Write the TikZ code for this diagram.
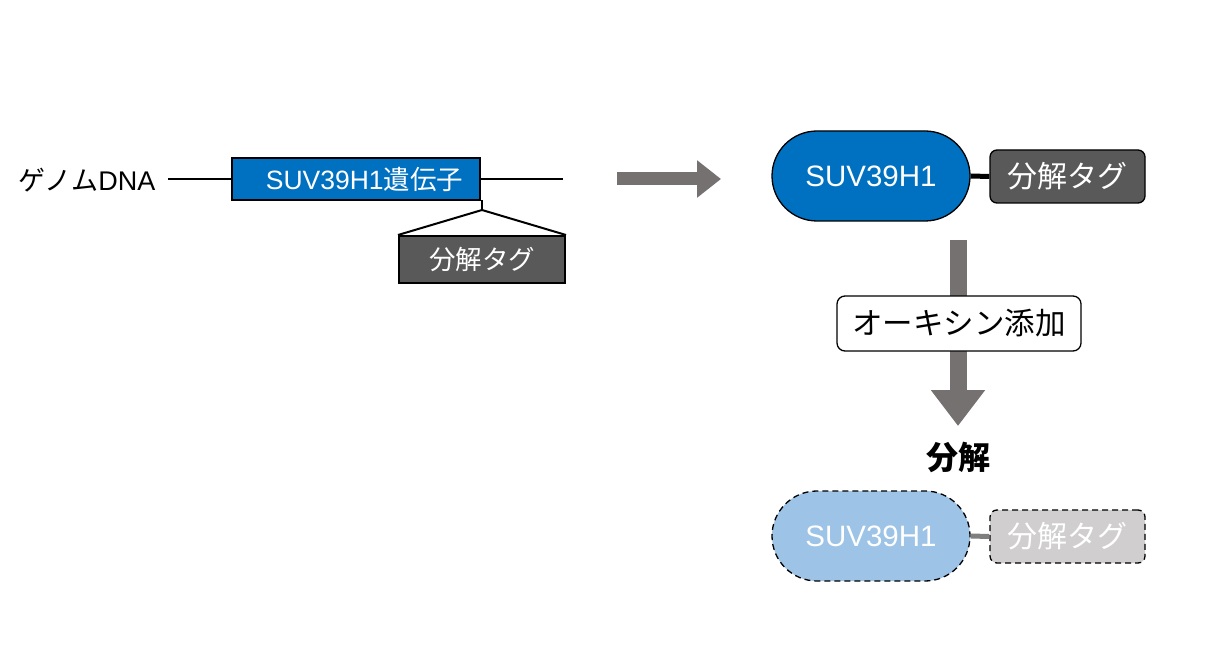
\documentclass[tikz,border=0pt]{standalone}
\usepackage{fontspec}
\setmainfont{Liberation Sans}
\newfontfamily\cjk{Noto Sans CJK JP}
\usetikzlibrary{shapes.misc,arrows.meta}
\definecolor{geneblue}{HTML}{0070C0}
\definecolor{lightblue}{HTML}{9DC3E6}
\definecolor{tagdark}{HTML}{595959}
\definecolor{taglight}{HTML}{D0CECE}
\definecolor{arrowgray}{HTML}{767171}
\definecolor{linkgray}{HTML}{7F7F7F}
\begin{document}
\begin{tikzpicture}[x=1pt,y=-1pt,
  txt/.style={inner sep=0pt,font=\fontsize{27}{30}\selectfont},
  genebox/.style={draw=black,line width=2pt,fill=geneblue,text=white,minimum width=248pt,minimum height=42pt,inner sep=0pt,font=\fontsize{26.5}{30}\selectfont},
  tagbox/.style={draw=black,line width=2pt,fill=tagdark,text=white,minimum width=166pt,minimum height=47pt,inner sep=0pt,font=\fontsize{26.5}{30}\selectfont},
  prot/.style={rounded rectangle,draw=black,line width=1.3pt,minimum width=198pt,minimum height=90pt,inner sep=0pt,text=white,font=\fontsize{29.5}{33}\selectfont},
  rtag/.style={rectangle,rounded corners=7pt,draw=black,line width=1.3pt,minimum width=155pt,minimum height=53pt,inner sep=0pt,text=white,font=\fontsize{30}{33}\selectfont},
  dsh/.style={dash pattern=on 6pt off 4pt},
]
\useasboundingbox (0,0) rectangle (1206,652);
% left: genome
\node[txt,anchor=west] (dna) at (18,180) {{\cjk ゲノム}DNA};
\node[genebox] (gene) at (356,179) {\hspace*{17pt}SUV39H1{\cjk 遺伝子}};
\coordinate (l1) at (168,179);
\coordinate (r1) at (563,179);
\draw[line width=2pt] (l1) -- (gene.west);
\draw[line width=2pt] (gene.east) -- (r1);
\node[tagbox] (tag) at (482,259.5) {\cjk 分解タグ};
\coordinate (ins) at (482,200);
\coordinate (apex) at (482,210);
\draw[line width=2pt] (ins) -- (apex);
\draw[line width=2pt] (tag.north west) -- (apex) -- (tag.north east);
% right arrow
\coordinate (ra1) at (617,179);
\coordinate (ra2) at (721,179);
\draw[line width=13pt,arrowgray,-{Triangle[length=24pt,width=36pt]}] (ra1) -- (ra2);
% protein
\node[prot,fill=geneblue] (p1) at (871,176) {SUV39H1};
\node[rtag,fill=tagdark] (t1) at (1067.5,176.5) {\cjk 分解タグ};
\draw[line width=5pt] (p1.east) -- (t1.west);
% down arrow
\coordinate (d1) at (958,240);
\coordinate (d2) at (958,426);
\draw[line width=17pt,arrowgray,-{Triangle[length=36pt,width=52pt]}] (d1) -- (d2);
\node[draw=black,line width=1.3pt,fill=white,rounded corners=8pt,minimum width=244pt,minimum height=55pt,inner sep=0pt,font=\fontsize{30.5}{34}\selectfont\cjk] (aux) at (959,323.5) {オーキシン添加};
\node[font=\fontsize{32}{36}\selectfont\cjk\bfseries,inner sep=0pt] (deg) at (958,457) {分解};
% degraded
\node[prot,fill=lightblue,dsh] (p2) at (871,536) {SUV39H1};
\node[rtag,fill=taglight,dsh] (t2) at (1067.5,536.5) {\cjk 分解タグ};
\draw[line width=5pt,linkgray] (p2.east) -- (t2.west);
\end{tikzpicture}
\end{document}
